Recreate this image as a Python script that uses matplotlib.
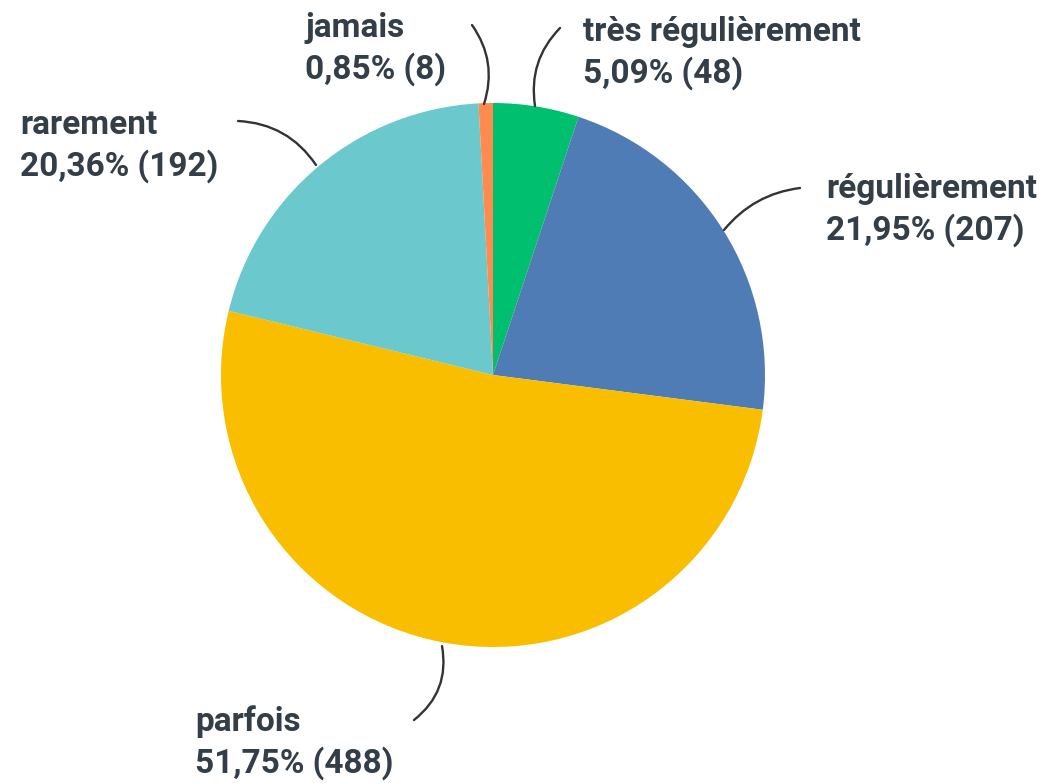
import matplotlib.pyplot as plt

# Data
categories = ["très régulièrement", "régulièrement", "parfois", "rarement", "jamais"]
counts = [48, 207, 488, 192, 8]
percents = ["5,09%", "21,95%", "51,75%", "20,36%", "0,85%"]
colors = ["#00BF6F", "#507CB6", "#F9BE00", "#6BC8CD", "#FF8B4F"]

W, H = 1050, 783
TEXT_COLOR = "#333E48"


def py(y):
    """Convert pixel row (top-down) into data y (bottom-up)."""
    return H - y


fig = plt.figure(figsize=(W / 100, H / 100), dpi=100)
ax = fig.add_axes([0, 0, 1, 1])

ax.pie(counts, colors=colors, startangle=90, counterclock=False,
       center=(493, py(375)), radius=272,
       wedgeprops=dict(linewidth=0))

# pie() resets the limits, so set them afterwards
ax.set_xlim(0, W)
ax.set_ylim(0, H)
ax.set_aspect("equal")
ax.axis("off")

# label text position (left x, baseline of first line) and leader line (start on pie, end near text, curvature)
label_pos = {
    "très régulièrement": (583, 41),
    "régulièrement": (826, 198),
    "parfois": (195, 731),
    "rarement": (20, 134),
    "jamais": (305, 37),
}
leaders = {
    "très régulièrement": ((535, 106), (560, 28), -0.25),
    "régulièrement": ((724, 230), (800, 188), -0.2),
    "parfois": ((442, 646), (414, 720), -0.3),
    "rarement": ((316, 165), (238, 121), 0.25),
    "jamais": ((484, 104), (472, 25), 0.25),
}

for cat, n, pct in zip(categories, counts, percents):
    x, yb = label_pos[cat]
    ax.text(x, py(yb), cat, fontsize=24, fontweight="bold", family="Roboto",
            color=TEXT_COLOR, ha="left", va="baseline")
    ax.text(x, py(yb + 42), f"{pct} ({n})", fontsize=24, fontweight="bold",
            family="Roboto", color=TEXT_COLOR, ha="left", va="baseline")
    (x0, y0), (x1, y1), rad = leaders[cat]
    ax.annotate("", xy=(x1, py(y1)), xytext=(x0, py(y0)),
                arrowprops=dict(arrowstyle="-", color="#333333", lw=1.7,
                                connectionstyle=f"arc3,rad={rad}",
                                shrinkA=0, shrinkB=0))

fig.savefig("out.png", dpi=100, facecolor="white")
